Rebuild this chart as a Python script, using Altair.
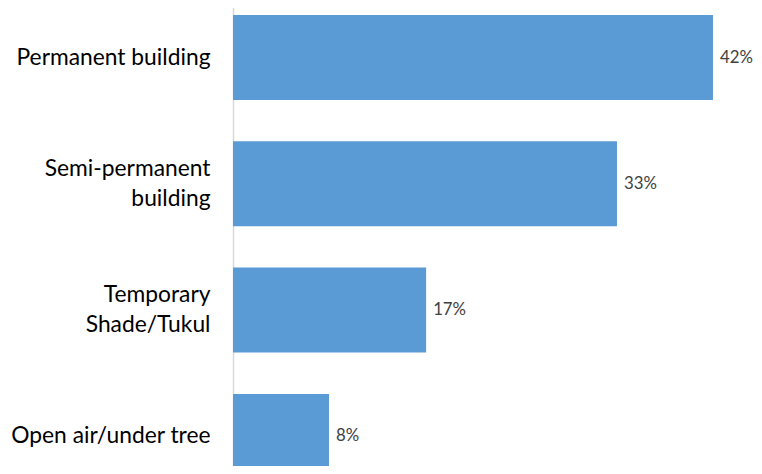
import altair as alt
import pandas as pd

categories = ["Permanent building", "Semi-permanent\nbuilding", "Temporary\nShade/Tukul", "Open air/under tree"]
values = [42.0, 33.6, 16.9, 8.4]
labels = ["42%", "33%", "17%", "8%"]

df = pd.DataFrame({"cat": categories, "val": values, "lab": labels})

y = alt.Y("cat:N", sort=categories, title=None,
          scale=alt.Scale(range=[-13.65, 491.55], paddingInner=0.327, paddingOuter=0.1635),
          axis=alt.Axis(ticks=False, labelPadding=23, labelFont="Lato", labelFontSize=22.8,
                        labelColor="#000000", labelLineHeight=30, labelAlign="right",
                        labelExpr="split(datum.label, '\\n')",
                        labelOffset={"condition": {"test": "indexof(datum.value, '\\n') >= 0", "value": -15},
                                     "value": 0},
                        domainColor="#d9d9d9", domainWidth=1.5, labelLimit=300))
x = alt.X("val:Q", title=None, scale=alt.Scale(domain=[0, 45.59], nice=False), axis=None)

bars = alt.Chart(df).mark_bar(color="#5B9BD5", clip=True).encode(x=x, y=y)
text = alt.Chart(df).mark_text(align="left", baseline="middle", dx=7, font="Lato",
                               fontSize=16.8, color="#404040").encode(x=x, y=y, text="lab:N")

chart = (bars + text).properties(
    width=521, height=458,
    padding={"left": 225, "top": 0, "right": 0, "bottom": 0},
    autosize=alt.AutoSizeParams(type="none"),
).configure_view(stroke=None)

chart.save("out.html", embed_options={"renderer": "svg", "actions": False})
